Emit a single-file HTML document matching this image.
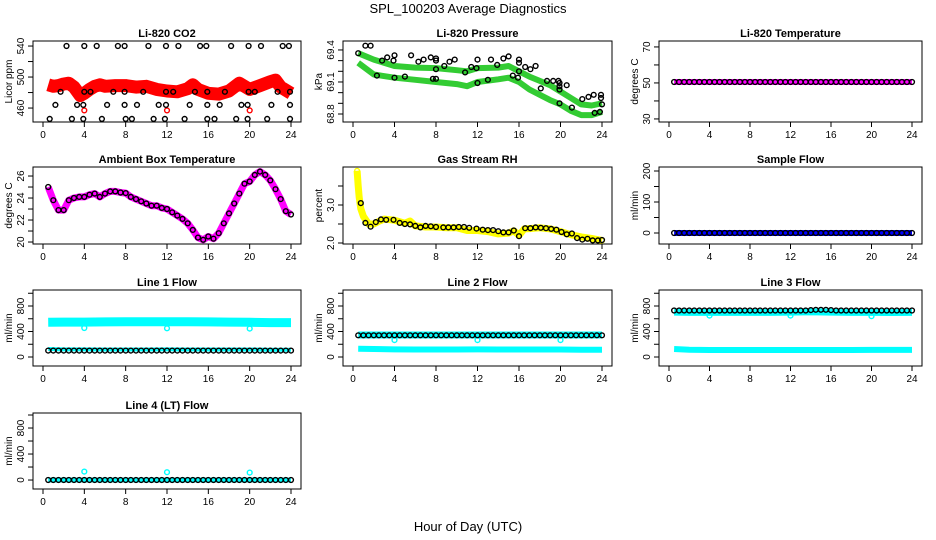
<!DOCTYPE html>
<html><head><meta charset="utf-8">
<style>
html,body{margin:0;padding:0;background:#fff;}
svg{display:block;font-family:"Liberation Sans",sans-serif;}
</style></head>
<body>
<svg id="chart" width="936" height="540" viewBox="0 0 936 540" xmlns="http://www.w3.org/2000/svg">
<text x="468" y="13" text-anchor="middle" font-size="13">SPL_100203  Average Diagnostics</text>
<text x="468" y="531" text-anchor="middle" font-size="13">Hour of Day (UTC)</text>
</svg>
<script>
// ---------- data ----------
const H48 = [0.5,1,1.5,2,2.5,3,3.5,4,4.5,5,5.5,6,6.5,7,7.5,8,8.5,9,9.5,10,10.5,11,11.5,12,12.5,13,13.5,14,14.5,15,15.5,16,16.5,17,17.5,18,18.5,19,19.5,20,20.5,21,21.5,22,22.5,23,23.5,24];
const xTicks = [0,4,8,12,16,20,24];

// CO2
const co2BandHours = [0.5,1,1.5,2,2.5,3,3.6,4,4.5,5,5.5,6,7,8,9,10,11,12,13,14,14.5,15,16,17,18,19,20,21,22,22.5,23,24];
const co2BandVals = [490,488,489,491,492,487,476,479,484,488,490,488,489,489,487,488,484,482,481,485,490,484,479,478,482,492,484,489,494,496,487,479];
const co2RedOutHours = [4,12,20];
const co2RedOutVals = [457,457,457];
const co2BlackHours = [2.27,4.0,5.2,7.25,7.9,10.2,11.9,13.1,15.2,15.8,18.2,19.9,21.1,23.2,23.8,
 1.7,4.0,4.6,6.8,7.9,9.7,11.9,12.6,14.7,15.9,17.6,19.9,20.5,22.7,23.9,
 1.2,3.3,3.9,6.2,7.9,9.1,11.2,11.9,14.2,15.9,17.1,19.2,19.8,22.1,23.9,
 0.65,2.8,3.9,5.7,8.0,8.6,10.7,11.8,13.7,15.9,16.6,18.7,19.8,21.7,23.9];
const co2BlackVals = [540,540,540,540,540,540,540,540,540,540,540,540,540,540,540,
 481,481,481,481,481,481,481,481,481,481,481,481,481,481,481,
 464,464,464,464,464,464,464,464,464,464,464,464,464,464,464,
 446,446,446,446,446,446,446,446,446,446,446,446,446,446,446];

// Pressure
const presHours = [0.5,2,4,6,8,10,11,12,14,15,16,17,18,19,20,21,22,23,24];
const presUpper = [69.37,69.31,69.25,69.235,69.23,69.21,69.2,69.23,69.235,69.25,69.2,69.15,69.11,69.07,69.01,68.95,68.89,68.88,68.9];
const presLower = [69.28,69.17,69.14,69.12,69.10,69.08,69.06,69.10,69.125,69.14,69.1,69.03,68.98,68.93,68.89,68.83,68.79,68.79,68.82];
const presBlackHours = [0.5,1.2,1.7,2.3,2.8,3.3,3.9,4.0,4.0,5.0,5.6,6.3,6.8,7.5,7.7,8.0,8.0,8.0,8.0,8.8,9.3,9.8,10.8,11.4,11.9,12.0,12.0,13.0,13.3,13.9,14.5,15.0,15.4,15.9,16.0,16.0,16.0,16.6,17.1,17.6,18.1,18.7,19.3,19.8,19.9,19.9,19.9,19.9,20.6,21.1,22.1,22.7,23.2,23.3,23.8,23.9,23.9,24];
const presBlackVals = [69.37,69.44,69.44,69.16,69.3,69.33,69.3,69.35,69.14,69.15,69.35,69.29,69.31,69.33,69.13,69.13,69.32,69.3,69.22,69.25,69.29,69.31,69.19,69.24,69.23,69.31,69.09,69.12,69.31,69.26,69.32,69.34,69.16,69.14,69.31,69.28,69.2,69.24,69.22,69.25,69.04,69.11,69.11,69.11,69.09,69.06,69.03,68.9,69.07,68.86,68.94,68.96,68.98,68.81,68.82,68.98,68.95,68.89];

// Li-820 temperature
const tempVals = [50.5,50.5,50.5,50.5,50.5,50.5,50.5,50.5,50.5,50.5,50.5,50.5,50.5,50.5,50.5,50.5,50.5,50.5,50.5,50.5,50.5,50.5,50.5,50.5,50.5,50.5,50.5,50.5,50.5,50.5,50.5,50.5,50.5,50.5,50.5,50.5,50.5,50.5,50.5,50.5,50.5,50.5,50.5,50.5,50.5,50.5,50.5,50.5];

// Ambient box temperature
const ambVals = [25.0,23.8,22.9,22.9,23.8,24.0,24.1,24.1,24.3,24.4,24.1,24.4,24.6,24.6,24.5,24.45,24.1,23.9,23.7,23.5,23.3,23.3,23.1,23.0,22.7,22.4,22.1,21.7,21.1,20.4,20.2,20.5,20.3,20.8,21.7,22.6,23.5,24.4,25.3,25.5,26.1,26.4,26.1,25.6,24.8,23.9,22.8,22.5];

// Gas stream RH
const rhBandHours = [0.4,0.5,0.6,0.75,1,1.5,2,2.5,3,4,5,5.5,6,7,8,9,10,11,12,13,14,15,15.5,16,16.5,17,18,19,20,21,22,23,24];
const rhBandVals = [3.9,3.5,3.2,2.9,2.7,2.5,2.5,2.57,2.63,2.6,2.52,2.58,2.45,2.42,2.42,2.4,2.4,2.33,2.33,2.3,2.24,2.26,2.32,2.2,2.37,2.38,2.4,2.37,2.3,2.22,2.16,2.12,2.07];
const rhBlackHours = [0.75,1.2,1.7,2.2,2.7,3.2,3.9,4.5,5,5.5,6,6.5,7,7.5,8,8.7,9.2,9.7,10.2,10.7,11.2,11.9,12.5,13,13.5,14,14.5,15,15.5,16,16.6,17.1,17.6,18.1,18.6,19.1,19.6,20.1,20.6,21.1,21.6,22.1,22.6,23.1,23.6,24];
const rhBlackVals = [3.05,2.53,2.43,2.55,2.62,2.61,2.61,2.53,2.5,2.49,2.45,2.41,2.45,2.44,2.42,2.41,2.41,2.41,2.42,2.42,2.4,2.38,2.35,2.34,2.34,2.31,2.28,2.28,2.33,2.18,2.39,2.39,2.41,2.4,2.39,2.37,2.35,2.29,2.23,2.25,2.13,2.09,2.11,2.07,2.07,2.08];

// Flows
const flowHours = [0.5,2,4,6,8,10,12,14,16,18,20,22,24];
const sampleBlue = [0,0,0,0,0,0,0,0,0,0,0,0,0];
const sampleBlack = [0,0,0,0,0,0,0,0,0,0,0,0,0,0,0,0,0,0,0,0,0,0,0,0,0,0,0,0,0,0,0,0,0,0,0,0,0,0,0,0,0,0,0,0,0,0,0,0];
const line1Upper = [545,548,548,550,552,553,552,553,550,548,545,540,540];
const line1Lower = [125,120,120,118,118,118,120,118,118,118,118,115,115];
const line1Black = [100,100,100,100,100,100,100,100,100,100,100,100,100,100,100,100,100,100,100,100,100,100,100,100,100,100,100,100,100,100,100,100,100,100,100,100,100,100,100,100,100,100,100,100,100,100,100,100];
const line1OutHours = [4,12,20];
const line1OutVals = [455,450,445];
const line2Upper = [345,345,345,345,345,345,345,345,345,345,345,345,345];
const line2Lower = [130,125,120,118,118,118,120,118,118,118,118,115,115];
const line2Black = [340,340,340,340,340,340,340,340,340,340,340,340,340,340,340,340,340,340,340,340,340,340,340,340,340,340,340,340,340,340,340,340,340,340,340,340,340,340,340,340,340,340,340,340,340,340,340,340];
const line2OutHours = [4,12,20];
const line2OutVals = [265,265,265];
const line3Upper = [705,700,700,700,700,700,705,710,705,700,700,698,700];
const line3Lower = [125,115,110,110,110,110,110,110,110,110,112,112,112];
const line3Black = [730,730,730,730,730,730,730,730,730,730,730,730,730,730,730,730,730,730,730,730,730,730,730,730,730,730,730,735,740,740,740,735,730,730,730,730,730,730,730,730,730,730,730,730,730,730,730,730];
const line3OutHours = [4,12,20];
const line3OutVals = [650,650,640];
const line4Cyan = [0,0,0,0,0,0,0,0,0,0,0,0,0];
const line4Black = [0,0,0,0,0,0,0,0,0,0,0,0,0,0,0,0,0,0,0,0,0,0,0,0,0,0,0,0,0,0,0,0,0,0,0,0,0,0,0,0,0,0,0,0,0,0,0,0];
const line4OutHours = [4,12,20];
const line4OutVals = [130,120,115];

// ---------- drawing ----------
const NS = 'http://www.w3.org/2000/svg';
const svg = document.getElementById('chart');
const colL = [33, 343, 659], colR = [301, 612, 922];
const rowT = [41, 167, 290, 413], rowB = [122, 244, 366, 489];

function mk(tag, attrs, parent) {
  const e = document.createElementNS(NS, tag);
  for (const k in attrs) e.setAttribute(k, attrs[k]);
  (parent || svg).appendChild(e);
  return e;
}

function panel(p) {
  const L = colL[p.col], R = colR[p.col], T = rowT[p.row], B = rowB[p.row];
  const g = mk('g', {});
  
  
  const xs = h => L + 10 + h * (R - L - 20) / 24;
  const ys = v => B - (v - p.ymin) / (p.ymax - p.ymin) * (B - T);
  const clip = 'clip-' + p.name;
  const cp = mk('clipPath', {id: clip}, g);
  mk('rect', {x: L, y: T, width: R - L, height: B - T}, cp);
  const plot = mk('g', {'clip-path': 'url(#' + clip + ')'}, g);
  p.series.forEach(s => {
    if (s.type === 'band') {
      const pts = s.x.map((h, i) => xs(h).toFixed(1) + ',' + ys(s.y[i]).toFixed(1)).join(' ');
      const pl = mk('polyline', {points: pts, fill: 'none', stroke: s.color, 'stroke-width': s.w, 'stroke-linejoin': 'round', 'stroke-linecap': 'butt'}, plot);
      
      
    } else {
      const sg = mk('g', {}, plot);
      
      
      s.x.forEach((h, i) => {
        const c = mk('circle', {cx: xs(h).toFixed(1), cy: ys(s.y[i]).toFixed(1), r: 2.4, fill: 'none', stroke: s.color, 'stroke-width': 1.4}, sg);
        
        
      });
    }
  });
  const box = mk('rect', {x: L, y: T, width: R - L, height: B - T, fill: 'none', stroke: '#000', 'stroke-width': 1}, g);
  
  
  const t = mk('text', {x: (L + R) / 2, y: T - 4, 'text-anchor': 'middle', 'font-size': 11, 'font-weight': 'bold'}, g);
  t.textContent = p.title;
  
  
  xTicks.forEach(v => {
    mk('line', {x1: xs(v), x2: xs(v), y1: B, y2: B + 5, stroke: '#000'}, g);
    const lt = mk('text', {x: xs(v), y: B + 16, 'text-anchor': 'middle', 'font-size': 10}, g);
    lt.textContent = v;
    
    
  });
  p.yTicks.forEach(v => {
    mk('line', {x1: L, x2: L - 5, y1: ys(v), y2: ys(v), stroke: '#000'}, g);
  });
  p.yLabels.forEach((lab, i) => {
    const yy = ys(p.yLabelVals[i]);
    const lt = mk('text', {x: L - 9, y: yy, 'text-anchor': 'middle', 'font-size': 10, transform: 'rotate(-90 ' + (L - 9) + ' ' + yy + ')'}, g);
    lt.textContent = lab;
    
    
  });
  const cy = (T + B) / 2;
  const yt = mk('text', {x: L - 21, y: cy, 'text-anchor': 'middle', 'font-size': 10, transform: 'rotate(-90 ' + (L - 21) + ' ' + cy + ')'}, g);
  yt.textContent = p.ytitle;
  
  
}

const flowTicks = [0,200,400,600,800,1000];
const flowLabels = ['0','400','800'];
const flowLabelVals = [0,400,800];

panel({name:'co2', title:'Li-820 CO2', col:0, row:0, ymin:442, ymax:546.5, ytitle:'Licor ppm',
  yTicks:[460,480,500,520,540], yLabels:['460','500','540'], yLabelVals:[460,500,540],
  series:[
    {type:'band', name:'co2-band', x:co2BandHours, y:co2BandVals, color:'#ff0000', w:13},
    {type:'pts', name:'co2-red-outliers', x:co2RedOutHours, y:co2RedOutVals, color:'#ff0000'},
    {type:'pts', name:'co2-black-points', x:co2BlackHours, y:co2BlackVals, color:'#000'}]});

panel({name:'pressure', title:'Li-820 Pressure', col:1, row:0, ymin:68.725, ymax:69.484, ytitle:'kPa',
  yTicks:[68.8,68.9,69.0,69.1,69.2,69.3,69.4], yLabels:['68.8','69.1','69.4'], yLabelVals:[68.8,69.1,69.4],
  series:[
    {type:'band', name:'pressure-upper-band', x:presHours, y:presUpper, color:'#33cc33', w:6},
    {type:'band', name:'pressure-lower-band', x:presHours, y:presLower, color:'#33cc33', w:6},
    {type:'pts', name:'pressure-black-points', x:presBlackHours, y:presBlackVals, color:'#000'}]});

panel({name:'li820-temp', title:'Li-820 Temperature', col:2, row:0, ymin:28.3, ymax:73.3, ytitle:'degrees C',
  yTicks:[30,40,50,60,70], yLabels:['30','50','70'], yLabelVals:[30,50,70],
  series:[
    {type:'band', name:'temp-band', x:H48, y:tempVals, color:'#ff00ff', w:6},
    {type:'pts', name:'temp-black-points', x:H48, y:tempVals, color:'#000'}]});

panel({name:'ambient', title:'Ambient Box Temperature', col:0, row:1, ymin:19.82, ymax:26.82, ytitle:'degrees C',
  yTicks:[20,21,22,23,24,25,26], yLabels:['20','22','24','26'], yLabelVals:[20,22,24,26],
  series:[
    {type:'band', name:'ambient-band', x:H48, y:ambVals, color:'#ff00ff', w:7},
    {type:'pts', name:'ambient-black-points', x:H48, y:ambVals, color:'#000'}]});

panel({name:'rh', title:'Gas Stream RH', col:1, row:1, ymin:1.974, ymax:4.0, ytitle:'percent',
  yTicks:[2.0,2.5,3.0,3.5], yLabels:['2.0','3.0'], yLabelVals:[2.0,3.0],
  series:[
    {type:'band', name:'rh-band', x:rhBandHours, y:rhBandVals, color:'#ffff00', w:7},
    {type:'pts', name:'rh-yellow-points', x:rhBandHours, y:rhBandVals, color:'#ffff00'},
    {type:'pts', name:'rh-black-points', x:rhBlackHours, y:rhBlackVals, color:'#000'}]});

panel({name:'sample-flow', title:'Sample Flow', col:2, row:1, ymin:-35.5, ymax:212.9, ytitle:'ml/min',
  yTicks:[0,50,100,150,200], yLabels:['0','100','200'], yLabelVals:[0,100,200],
  series:[
    {type:'band', name:'sample-blue-band', x:flowHours, y:sampleBlue, color:'#0000ff', w:6},
    {type:'pts', name:'sample-black-points', x:H48, y:sampleBlack, color:'#000'}]});

panel({name:'line1', title:'Line 1 Flow', col:0, row:2, ymin:-141, ymax:1051, ytitle:'ml/min',
  yTicks:flowTicks, yLabels:flowLabels, yLabelVals:flowLabelVals,
  series:[
    {type:'band', name:'line1-upper-band', x:flowHours, y:line1Upper, color:'#00ffff', w:9},
    {type:'band', name:'line1-lower-band', x:flowHours, y:line1Lower, color:'#00ffff', w:4},
    {type:'pts', name:'line1-cyan-outliers', x:line1OutHours, y:line1OutVals, color:'#00ffff'},
    {type:'pts', name:'line1-black-points', x:H48, y:line1Black, color:'#000'}]});

panel({name:'line2', title:'Line 2 Flow', col:1, row:2, ymin:-141, ymax:1051, ytitle:'ml/min',
  yTicks:flowTicks, yLabels:flowLabels, yLabelVals:flowLabelVals,
  series:[
    {type:'band', name:'line2-upper-band', x:flowHours, y:line2Upper, color:'#00ffff', w:7},
    {type:'band', name:'line2-lower-band', x:flowHours, y:line2Lower, color:'#00ffff', w:6},
    {type:'pts', name:'line2-cyan-outliers', x:line2OutHours, y:line2OutVals, color:'#00ffff'},
    {type:'pts', name:'line2-black-points', x:H48, y:line2Black, color:'#000'}]});

panel({name:'line3', title:'Line 3 Flow', col:2, row:2, ymin:-141, ymax:1051, ytitle:'ml/min',
  yTicks:flowTicks, yLabels:flowLabels, yLabelVals:flowLabelVals,
  series:[
    {type:'band', name:'line3-upper-band', x:flowHours, y:line3Upper, color:'#00ffff', w:7},
    {type:'band', name:'line3-lower-band', x:flowHours, y:line3Lower, color:'#00ffff', w:6},
    {type:'pts', name:'line3-cyan-outliers', x:line3OutHours, y:line3OutVals, color:'#00ffff'},
    {type:'pts', name:'line3-black-points', x:H48, y:line3Black, color:'#000'}]});

panel({name:'line4', title:'Line 4 (LT) Flow', col:0, row:3, ymin:-138, ymax:1031, ytitle:'ml/min',
  yTicks:flowTicks, yLabels:flowLabels, yLabelVals:flowLabelVals,
  series:[
    {type:'band', name:'line4-cyan-band', x:flowHours, y:line4Cyan, color:'#00ffff', w:5},
    {type:'pts', name:'line4-cyan-outliers', x:line4OutHours, y:line4OutVals, color:'#00ffff'},
    {type:'pts', name:'line4-black-points', x:H48, y:line4Black, color:'#000'}]});
</script>
</body></html>
